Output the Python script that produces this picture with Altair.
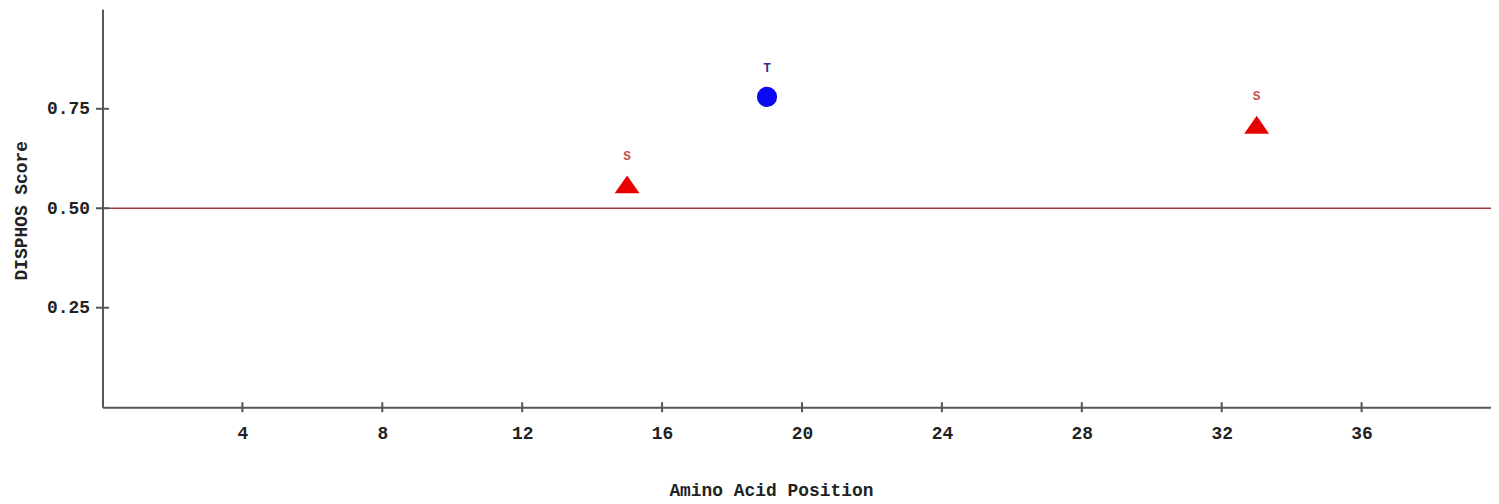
import altair as alt
import pandas as pd

# Data
positions = [15, 19, 33]
scores = [0.56, 0.78, 0.71]
residues = ["S", "T", "S"]
x_ticks = [4, 8, 12, 16, 20, 24, 28, 32, 36]
y_ticks = [0.25, 0.50, 0.75]
threshold = [0.5]

df = pd.DataFrame({"pos": positions, "score": scores, "res": residues})
thr = pd.DataFrame({"t": threshold})
xt = pd.DataFrame({"v": x_ticks})
yt = pd.DataFrame({"v": y_ticks})

FONT = "Liberation Mono"
TRI = "M-1,0.72L1,0.72L0,-0.72Z"

xscale = alt.Scale(domain=[0, 39.7], nice=False, zero=False)
yscale = alt.Scale(domain=[0, 1], nice=False)

base = alt.Chart(df)

points = base.mark_point(filled=True, opacity=1, strokeWidth=0).encode(
    x=alt.X("pos:Q", scale=xscale,
            axis=alt.Axis(values=x_ticks, title="Amino Acid Position", grid=False, ticks=False,
                          format="d", titleX=672, titleY=84, titleBaseline="middle",
                          titleAnchor="start", titleAlign="center", labelPadding=17)),
    y=alt.Y("score:Q", scale=yscale,
            axis=alt.Axis(values=y_ticks, title="DISPHOS Score", grid=False, ticks=False,
                          format=".2f", titleX=-81, titleY=202, titleAngle=270,
                          titleAlign="center", titleBaseline="middle", labelPadding=13)),
    color=alt.Color("res:N", scale=alt.Scale(domain=["S", "T"], range=["#e80000", "#0a0af0"]), legend=None),
    shape=alt.Shape("res:N", scale=alt.Scale(domain=["S", "T"], range=[TRI, "circle"]), legend=None),
    size=alt.Size("res:O", scale=alt.Scale(domain=["S", "T"], range=[625, 415]), legend=None),
)

labels = base.mark_text(dy=-29, font=FONT, fontSize=13, fontWeight="bold").encode(
    x=alt.X("pos:Q", scale=xscale),
    y=alt.Y("score:Q", scale=yscale),
    text="res:N",
    color=alt.Color("res:N", scale=alt.Scale(domain=["S", "T"], range=["#c85050", "#303090"]), legend=None),
)

rule = alt.Chart(thr).mark_rule(color="#a03a3a", strokeWidth=1.5).encode(
    y=alt.Y("t:Q", scale=yscale)
)

xticks_layer = alt.Chart(xt).mark_tick(orient="vertical", size=10, thickness=2, color="#555555", opacity=1).encode(
    x=alt.X("v:Q", scale=xscale),
    y=alt.datum(0, scale=yscale),
)

yticks_layer = alt.Chart(yt).mark_tick(orient="horizontal", size=13, thickness=2, color="#555555", opacity=1).encode(
    y=alt.Y("v:Q", scale=yscale),
    x=alt.datum(0, scale=xscale),
)

chart = alt.layer(rule, xticks_layer, yticks_layer, points, labels).resolve_scale(color="independent").properties(
    width=1396,
    height=400,
    autosize=alt.AutoSizeParams(type="none"),
    padding={"left": 95, "top": 0, "right": 0, "bottom": 96},
    background="white",
).configure_view(stroke=None).configure_axis(
    domainColor="#555555",
    domainWidth=2,
    labelFont=FONT,
    labelFontSize=18,
    labelFontWeight="bold",
    labelColor="#222222",
    titleFont=FONT,
    titleFontSize=18,
    titleFontWeight="bold",
    titleColor="#222222",
)

chart.save("out.html", embed_options={"renderer": "svg", "actions": False})
